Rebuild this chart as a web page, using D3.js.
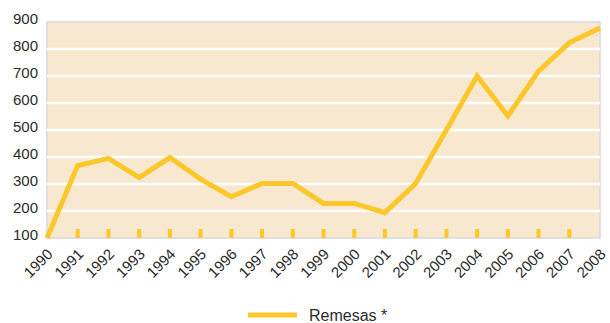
<!DOCTYPE html>
<html>
<head>
<meta charset="utf-8">
<script src="https://cdn.jsdelivr.net/npm/d3@7"></script>
<style>
  body { margin: 0; background: #fff; }
  svg text { font-family: "Liberation Sans", Arial, sans-serif; fill: #2b2b2b; }
</style>
</head>
<body>
<div class="chart"></div>
<script>
// Remesas, 1990-2008
const years = [1990, 1991, 1992, 1993, 1994, 1995, 1996, 1997, 1998, 1999,
               2000, 2001, 2002, 2003, 2004, 2005, 2006, 2007, 2008];
const remesas = [100, 368, 395, 324, 398, 318, 253, 302, 302, 228,
                 228, 194, 302, 500, 700, 552, 718, 823, 878];
const yTicks = [100, 200, 300, 400, 500, 600, 700, 800, 900];
const seriesName = "Remesas *";

const width = 610, height = 323;
const margin = { top: 22, right: 10, bottom: 85, left: 47 };
const innerW = 600 - margin.left;
const innerH = 238 - margin.top;

const lineColor = "#fcc72b";

const svg = d3.select(".chart")
    .append("svg")
    .attr("width", width)
    .attr("height", height);

const g = svg.append("g")
    .attr("transform", `translate(${margin.left}, ${margin.top})`);

// Scales
const xScale = d3.scaleLinear()
    .domain(d3.extent(years))
    .range([0, innerW]);

const yScale = d3.scaleLinear()
    .domain([100, 900])
    .range([innerH, 0]);

// Background
g.append("rect")
    .attr("width", innerW)
    .attr("height", innerH)
    .attr("fill", "#f8e8cf")
    .attr("stroke", "#d9d9d9")
    .attr("stroke-width", 1.5);

// Gridlines
g.selectAll(".grid")
    .data(yTicks.filter(d => d > 100 && d < 900))
    .enter()
    .append("line")
    .attr("x1", 0)
    .attr("x2", innerW)
    .attr("y1", d => yScale(d))
    .attr("y2", d => yScale(d))
    .attr("stroke", "#fff")
    .attr("stroke-width", 2.5);

// Small yellow year ticks inside the plot
g.selectAll(".ytick")
    .data(years.slice(1, -1))
    .enter()
    .append("rect")
    .attr("x", d => xScale(d) - 2)
    .attr("y", innerH - 9)
    .attr("width", 4)
    .attr("height", 9)
    .attr("fill", lineColor);

// Y axis labels
const yAxis = g.append("g")
    .call(d3.axisLeft(yScale).tickValues(yTicks).tickSize(0).tickPadding(9));
yAxis.select(".domain").remove();
yAxis.selectAll("text")
    .style("font-size", "15px")
    .style("font-family", "Liberation Sans, Arial, sans-serif")
    .attr("fill", "#2b2b2b")
    .attr("dy", "0.12em");

// X axis labels (rotated)
const xAxis = g.append("g")
    .attr("transform", `translate(0, ${innerH})`)
    .call(d3.axisBottom(xScale).tickValues(years).tickFormat(d3.format("d")).tickSize(0));
xAxis.select(".domain").remove();
xAxis.selectAll("text")
    .style("font-size", "15px")
    .style("font-family", "Liberation Sans, Arial, sans-serif")
    .attr("fill", "#2b2b2b")
    .attr("text-anchor", "end")
    .attr("dx", 0)
    .attr("dy", 0)
    .attr("transform", "translate(4, 15) rotate(-45)");

// Line
const line = d3.line()
    .x((d, i) => xScale(years[i]))
    .y(d => yScale(d));

g.append("path")
    .datum(remesas)
    .attr("d", line)
    .attr("fill", "none")
    .attr("stroke", lineColor)
    .attr("stroke-width", 5)
    .attr("stroke-linejoin", "miter");

// Legend
const legend = svg.append("g")
    .attr("transform", "translate(248, 315)");
legend.append("line")
    .attr("x1", 0)
    .attr("x2", 49)
    .attr("stroke", lineColor)
    .attr("stroke-width", 5);
legend.append("text")
    .attr("x", 61)
    .attr("y", 6)
    .style("font-size", "16px")
    .text(seriesName);
</script>
</body>
</html>
